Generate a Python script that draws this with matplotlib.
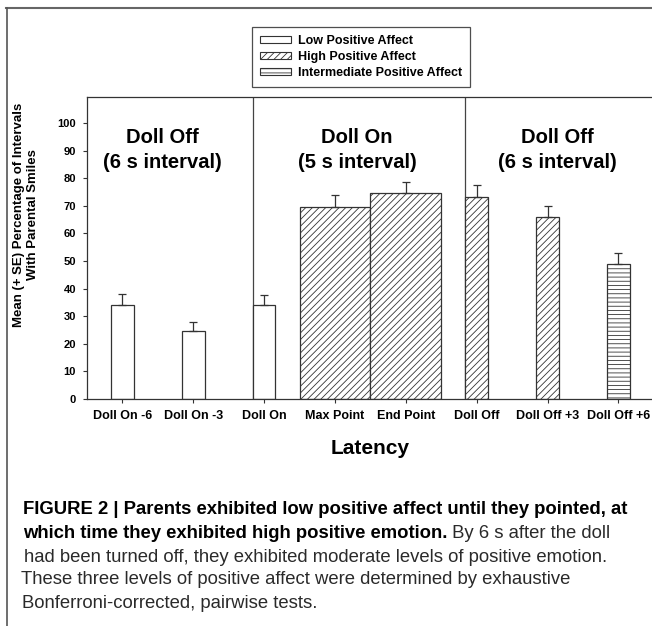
import matplotlib
matplotlib.use("Agg")
import matplotlib.pyplot as plt
from matplotlib.patches import Patch
from matplotlib.lines import Line2D

plt.rcParams['font.family'] = ['Liberation Sans', 'DejaVu Sans']
plt.rcParams['hatch.linewidth'] = 0.6

# data
categories = ["Doll On -6", "Doll On -3", "Doll On", "Max Point", "End Point",
              "Doll Off", "Doll Off +3", "Doll Off +6"]
means = [33.9, 24.6, 34.0, 69.4, 74.8, 73.3, 65.9, 48.9]
se = [4.1, 3.2, 3.6, 4.4, 3.9, 4.3, 4.1, 4.1]
affect = ["low", "low", "low", "high", "high", "high", "high", "intermediate"]
yticks = [0, 10, 20, 30, 40, 50, 60, 70, 80, 90, 100]

hatches = {"low": "", "high": "/////", "intermediate": "----"}
legend_names = {"low": "Low Positive Affect", "high": "High Positive Affect",
                "intermediate": "Intermediate Positive Affect"}
edge = '#333333'

W, H = 652, 626
fig = plt.figure(figsize=(W / 100, H / 100), dpi=100)
ax = fig.add_axes([87 / W, 1 - 399 / H, 1 - 87 / W, (399 - 97) / H])

x = list(range(len(categories)))
for i, (m, a, c) in enumerate(zip(means, affect, categories)):
    w = 1.0 if c in ("Max Point", "End Point") else 0.32
    ax.bar(i, m, width=w, color='white', edgecolor=edge, linewidth=0.9,
           hatch=hatches[a], zorder=2)
ax.errorbar(x, means, yerr=[[0] * len(se), se], fmt='none', ecolor=edge,
            elinewidth=0.9, capsize=3.2, capthick=0.9, zorder=3)

# phase separators at the left edges of "Doll On" and "Doll Off"
for i in (2, 5):
    ax.axvline(i - 0.16, color='#444444', lw=0.9, zorder=1)

for xc, label in ((0.56, "Doll Off\n(6 s interval)"),
                  (3.31, "Doll On\n(5 s interval)"),
                  (6.14, "Doll Off\n(6 s interval)")):
    ax.text(xc, 90.3, label, ha='center', va='center', fontsize=14.5,
            fontweight='bold', linespacing=1.4)

ax.set_xlim(-0.5, 7.475)
ax.set_ylim(0, 109.4)
ax.set_xticks(x)
ax.set_xticklabels(categories, fontsize=9, fontweight='bold')
ax.set_yticks(yticks)
ax.set_yticklabels([str(t) for t in yticks], fontsize=8, fontweight='bold')
ax.tick_params(length=3, width=0.8, color=edge, pad=5)
ax.spines['right'].set_visible(False)
for s in ('left', 'top', 'bottom'):
    ax.spines[s].set_color(edge)
    ax.spines[s].set_linewidth(0.9)

fig.text(26 / W, 1 - 215 / H, "Mean (+ SE) Percentage of Intervals\nWith Parental Smiles",
         rotation=90, ha='center', va='center', fontsize=9.5, fontweight='bold',
         multialignment='center', linespacing=1.3)
fig.text(370 / W, 1 - 449 / H, "Latency", ha='center', va='center',
         fontsize=15, fontweight='bold')

handles = [Patch(facecolor='white', edgecolor=edge, hatch=hatches[k], linewidth=0.8)
           for k in ("low", "high", "intermediate")]
leg = fig.legend(handles, [legend_names[k] for k in ("low", "high", "intermediate")],
                 loc='upper left', bbox_to_anchor=(252 / W, 1 - 27 / H),
                 prop={'weight': 'bold', 'size': 9}, frameon=True, fancybox=False,
                 edgecolor='#222222', handlelength=2.5, handleheight=0.45,
                 handletextpad=0.5, labelspacing=0.3, borderpad=0.65, borderaxespad=0)
leg.get_frame().set_linewidth(0.9)

# outer frame of the figure panel
fig.add_artist(Line2D([6 / W, 1], [1 - 7.5 / H, 1 - 7.5 / H], color='#666666', lw=1.5,
                      transform=fig.transFigure))
fig.add_artist(Line2D([6.5 / W, 6.5 / W], [0, 1 - 7.5 / H], color='#555555', lw=1.2,
                      transform=fig.transFigure))

# caption
cap_font = ['Liberation Sans', 'DejaVu Sans']
cap_size = 13.3
txt = '#2a2a2a'
fig.text(23 / W, 1 - 509 / H,
         "FIGURE 2 | Parents exhibited low positive affect until they pointed, at",
         family=cap_font, fontsize=cap_size, fontweight='bold', va='center')
bold2 = fig.text(23 / W, 1 - 533 / H, "which time they exhibited high positive emotion.",
                 family=cap_font, fontsize=cap_size, fontweight='bold', va='center')
ax.annotate(" By 6 s after the doll", xy=(1, 0), xycoords=bold2, va='bottom', ha='left',
            family=cap_font, fontsize=cap_size, color=txt)
fig.text(24 / W, 1 - 557 / H,
         "had been turned off, they exhibited moderate levels of positive emotion.",
         family=cap_font, fontsize=cap_size, color=txt, va='center')
fig.text(21 / W, 1 - 580 / H,
         "These three levels of positive affect were determined by exhaustive",
         family=cap_font, fontsize=cap_size, color=txt, va='center')
fig.text(22 / W, 1 - 603 / H, "Bonferroni-corrected, pairwise tests.",
         family=cap_font, fontsize=cap_size, color=txt, va='center')

fig.savefig("out.png", dpi=100)
